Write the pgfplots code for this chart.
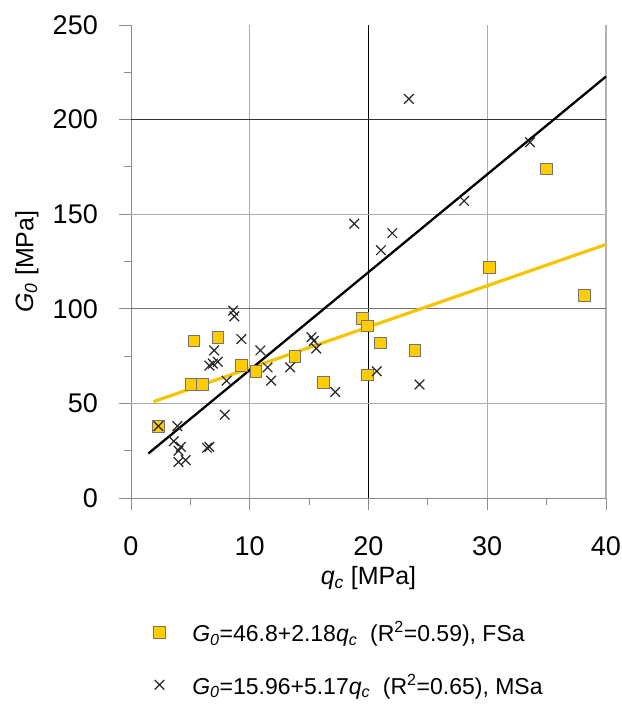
\documentclass[border=0pt]{standalone}
\usepackage{pgfplots}
\pgfplotsset{compat=1.18}
\usepackage{fontspec}
\setmainfont{Liberation Sans}
\definecolor{fsa}{RGB}{255,204,0}
\definecolor{fsaline}{RGB}{245,197,0}
\definecolor{gridgray}{RGB}{172,172,172}

\pgfplotstableread{
x y
2.3 38
5.3 83
7.3 85
5.05 60
6.0 60
9.3 70
10.5 67
13.8 75
16.2 61
19.5 95
19.9 91
21.0 82
19.9 65
23.9 78
30.2 122
35.0 174
38.2 107
}\fsadata

\pgfplotstableread{
x y
2.3 38
3.9 38
3.6 30
4.2 27
4.0 25
4.0 19
4.6 20
6.4 26.5
6.6 27
7.9 44
8.05 62
6.6 70
6.9 71
7.3 72
7.0 78
9.3 84
8.6 99
8.7 96
10.9 78
11.5 69
11.8 62
13.4 69
15.2 85
15.4 83
15.6 79
17.2 56
20.7 67
24.3 60
18.8 145
21.05 131
22.0 140
23.4 211
28.05 157
33.6 188
}\msadata

\begin{document}
\begin{tikzpicture}
\begin{axis}[
  at={(0,0)}, anchor=south west,
  scale only axis, width=475bp, height=473bp,
  xmin=0, xmax=40, ymin=0, ymax=250,
  axis x line*=bottom, axis y line*=left,
  axis line style={draw=black!45, line width=0.9bp, -},
  xtick={0,10,...,40}, ytick={0,50,...,250},
  minor x tick num=1, minor y tick num=1,
  tick align=outside,
  major tick length=12bp, minor tick length=7bp,
  tick style={draw=black!45, line width=0.9bp},
  /pgf/number format/assume math mode=true,
  ticklabel style={font=\fontsize{27bp}{32bp}\selectfont},
  xticklabel style={inner sep=0pt, anchor=north, yshift=-26bp},
  yticklabel style={inner sep=0pt, anchor=east, xshift=-21bp},
  xlabel={\textit{q}\textsubscript{\textit{c}} [MPa]},
  ylabel={\textit{G}\textsubscript{\textit{0}} [MPa]},
  label style={font=\fontsize{25bp}{30bp}\selectfont},
  xlabel style={at={(axis description cs:0.5,-0.169)}, anchor=center, inner sep=0pt},
  ylabel style={at={(axis description cs:-0.219,0.5)}, anchor=center, inner sep=0pt},
  legend cell align=left,
  legend style={at={(axis description cs:0,0)}, anchor=north west,
    xshift=19.5bp, yshift=-121bp, draw=none, fill=none,
    font=\fontsize{23bp}{27bp}\selectfont,
    row sep=31bp, column sep=27bp,
    nodes={inner sep=0pt}},
  clip=false,
]
% grid lines
\draw[gridgray, line width=1.2bp] (axis cs:10,0) -- (axis cs:10,250);
\draw[black, line width=0.9bp] (axis cs:20,0) -- (axis cs:20,250);
\draw[gridgray, line width=1.2bp] (axis cs:30,0) -- (axis cs:30,250);
\draw[black!30, line width=1.6bp] (axis cs:40,0) -- (axis cs:40,250);
\draw[gridgray, line width=1.2bp] (axis cs:0,50) -- (axis cs:40,50);
\draw[black!55, line width=1bp] (axis cs:0,100) -- (axis cs:40,100);
\draw[gridgray, line width=1.2bp] (axis cs:0,150) -- (axis cs:40,150);
\draw[black!80, line width=0.9bp] (axis cs:0,200) -- (axis cs:40,200);
% regression lines
\addplot[fsaline, line width=3.2bp, forget plot] coordinates {(1.9,50.94) (40,134.0)};
\addplot[black, line width=2.3bp, forget plot] coordinates {(1.46,23.51) (40,222.76)};
% data
\addplot[only marks, mark=square*, mark size=5.8bp,
  mark options={fill=fsa, draw=black!55, line width=0.7bp}] table[x=x,y=y] {\fsadata};
\addlegendentry{\textit{G}\textsubscript{\textit{0}}=46.8+2.18\textit{q}\textsubscript{\textit{c}}\ \ (R\textsuperscript{2}=0.59), FSa}
\addplot[only marks, mark=x, mark size=6.8bp,
  mark options={draw=black!85, line width=1.2bp}] table[x=x,y=y] {\msadata};
\addlegendentry{\textit{G}\textsubscript{\textit{0}}=15.96+5.17\textit{q}\textsubscript{\textit{c}}\ \ (R\textsuperscript{2}=0.65), MSa}
\end{axis}
\pgfresetboundingbox
\path (-131bp,-208bp) rectangle (491bp,498bp);
\end{tikzpicture}
\end{document}
